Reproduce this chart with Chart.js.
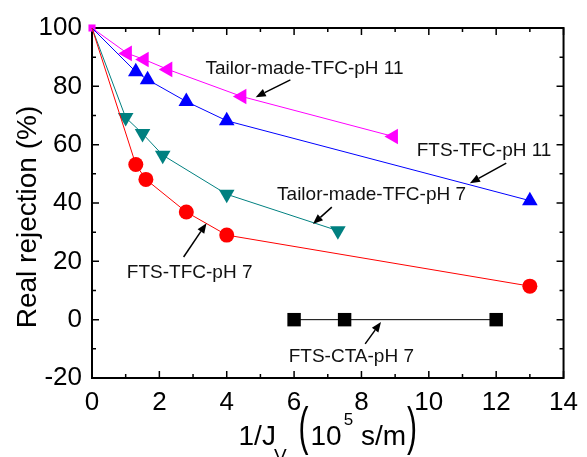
<!DOCTYPE html>
<html>
<head>
<meta charset="utf-8">
<script src="https://cdn.jsdelivr.net/npm/chart.js@4.4.0/dist/chart.umd.min.js"></script>
<style>
  html, body { margin: 0; padding: 0; background: #fff; }
</style>
</head>
<body>
<canvas id="chart" width="587" height="457"></canvas>
<script>
// Data (x = 1/Jv in 10^5 s/m, y = real rejection %)
const pinkX = [0, 1.05, 1.55, 2.25, 4.45, 8.95];
const pinkY = [100, 91.3, 89.2, 85.8, 76.5, 62.8];
const blueX = [0, 1.3, 1.65, 2.8, 4.0, 13.0];
const blueY = [100, 85, 82.3, 74.8, 68.2, 40.8];
const tealX = [0, 1.0, 1.5, 2.1, 4.0, 7.3];
const tealY = [100, 69.3, 63.8, 56.4, 43, 30.5];
const redX = [0, 1.3, 1.6, 2.8, 4.0, 13.0];
const redY = [100, 53.2, 48.1, 36.9, 29.0, 11.5];
const blackX = [6, 7.5, 12];
const blackY = [0, 0, 0];

// annotation labels and arrows (data coordinates)
const labelText = ['Tailor-made-TFC-pH 11', 'FTS-TFC-pH 11', 'Tailor-made-TFC-pH 7', 'FTS-TFC-pH 7', 'FTS-CTA-pH 7'];
const labelX = [6.31, 11.64, 8.30, 2.90, 7.70];
const labelY = [85.9, 57.8, 42.7, 16.0, -12.8];
const arrowFrom = [[5.89, 82.2], [12.30, 53.7], [7.12, 38.6], [2.72, 21.5], [8.11, -8.3]];
const arrowTo = [[4.86, 76.3], [11.22, 46.8], [6.56, 32.8], [3.40, 33.1], [8.58, -0.8]];

const FONT = "'Liberation Sans', Arial, sans-serif";

const toPoints = (xs, ys) => xs.map((x, i) => ({ x: x, y: ys[i] }));

// frame with inward ticks on all four sides
const frameTicks = {
  id: 'frameTicks',
  beforeDatasetsDraw(chart) {
    const { ctx, chartArea: a, scales } = chart;
    ctx.save();
    ctx.strokeStyle = '#000';
    ctx.lineWidth = 2;
    ctx.strokeRect(a.left, a.top, a.right - a.left, a.bottom - a.top);
    ctx.lineWidth = 1.5;
    ctx.beginPath();
    for (let v = 0; v <= 14; v += 1) {
      const px = scales.x.getPixelForValue(v);
      const len = v % 2 === 0 ? 7 : 4;
      ctx.moveTo(px, a.bottom); ctx.lineTo(px, a.bottom - len);
      ctx.moveTo(px, a.top); ctx.lineTo(px, a.top + len);
    }
    for (let v = -20; v <= 100; v += 10) {
      const py = scales.y.getPixelForValue(v);
      const len = v % 20 === 0 ? 7 : 4;
      ctx.moveTo(a.left, py); ctx.lineTo(a.left + len, py);
      ctx.moveTo(a.right, py); ctx.lineTo(a.right - len, py);
    }
    ctx.stroke();
    ctx.restore();
  }
};

// text labels with arrows
const annotations = {
  id: 'annotations',
  afterDatasetsDraw(chart) {
    const { ctx, scales } = chart;
    const sx = scales.x, sy = scales.y;
    ctx.save();
    ctx.fillStyle = '#111';
    ctx.font = '19px ' + FONT;
    ctx.textAlign = 'center';
    ctx.textBaseline = 'middle';
    labelText.forEach((t, i) => {
      ctx.fillText(t, sx.getPixelForValue(labelX[i]), sy.getPixelForValue(labelY[i]));
    });
    ctx.strokeStyle = '#000';
    ctx.fillStyle = '#000';
    ctx.lineWidth = 1.5;
    arrowFrom.forEach((f, i) => {
      const x0 = sx.getPixelForValue(f[0]), y0 = sy.getPixelForValue(f[1]);
      const x1 = sx.getPixelForValue(arrowTo[i][0]), y1 = sy.getPixelForValue(arrowTo[i][1]);
      const ang = Math.atan2(y1 - y0, x1 - x0);
      const hl = 10, hw = 4;
      const bx = x1 - hl * Math.cos(ang), by = y1 - hl * Math.sin(ang);
      ctx.beginPath();
      ctx.moveTo(x0, y0); ctx.lineTo(bx, by);
      ctx.stroke();
      ctx.beginPath();
      ctx.moveTo(x1, y1);
      ctx.lineTo(bx + hw * Math.sin(ang), by - hw * Math.cos(ang));
      ctx.lineTo(bx - hw * Math.sin(ang), by + hw * Math.cos(ang));
      ctx.closePath();
      ctx.fill();
    });
    ctx.restore();
  }
};

// axis titles (x title needs sub/superscript and tall parens)
const axisTitles = {
  id: 'axisTitles',
  afterDraw(chart) {
    const { ctx, chartArea: a } = chart;
    ctx.save();
    ctx.fillStyle = '#000';
    ctx.textBaseline = 'alphabetic';

    // y title
    ctx.save();
    ctx.translate(36, 217);
    ctx.rotate(-Math.PI / 2);
    ctx.textAlign = 'center';
    ctx.font = '28px ' + FONT;
    ctx.fillText('Real rejection (%)', 0, 0);
    ctx.restore();

    // x title pieces
    const parts = [
      { t: '1/J', f: 28, dy: 0, gap: -2, sy: 1 },
      { t: 'V', f: 19, dy: 17, gap: 12, sy: 1 },
      { t: '(', f: 30, dy: -1, gap: 2, sy: 1.7 },
      { t: '10', f: 28, dy: 0, gap: 2, sy: 1 },
      { t: '5', f: 17, dy: -20, gap: 0, sy: 1 },
      { t: ' s/m', f: 28, dy: 0, gap: 1, sy: 1 },
      { t: ')', f: 30, dy: -1, gap: 0, sy: 1.7 }
    ];
    let total = 0;
    parts.forEach(p => { ctx.font = p.f + 'px ' + FONT; p.w = ctx.measureText(p.t).width; total += p.w + p.gap; });
    let x = (a.left + a.right) / 2 - total / 2;
    const base = 445;
    ctx.textAlign = 'left';
    parts.forEach(p => {
      ctx.font = p.f + 'px ' + FONT;
      ctx.save();
      ctx.translate(x, base + p.dy);
      ctx.scale(1, p.sy);
      ctx.fillText(p.t, 0, 0);
      ctx.restore();
      x += p.w + p.gap;
    });
    ctx.restore();
  }
};

const lineDs = (label, xs, ys, color, style, rot, radius) => ({
  label: label,
  data: toPoints(xs, ys),
  showLine: true,
  borderColor: color,
  backgroundColor: color,
  borderWidth: 1,
  pointStyle: style,
  pointRotation: rot,
  pointRadius: radius,
  pointBorderWidth: 0,
  clip: false
});

new Chart(document.getElementById('chart'), {
  type: 'scatter',
  data: {
    datasets: [
      lineDs('FTS-CTA-pH 7', blackX, blackY, '#000', 'rect', 0, 9.5),
      lineDs('FTS-TFC-pH 7', redX, redY, '#ff0000', 'circle', 0, [0, 7.5, 7.5, 7.5, 7.5, 7.5]),
      lineDs('Tailor-made-TFC-pH 7', tealX, tealY, '#008080', 'triangle', 180, [0, 9, 9, 9, 9, 9]),
      lineDs('FTS-TFC-pH 11', blueX, blueY, '#0000ff', 'triangle', 0, [0, 9, 9, 9, 9, 9]),
      lineDs('Tailor-made-TFC-pH 11', pinkX, pinkY, '#ff00ff',
        ['rect', 'triangle', 'triangle', 'triangle', 'triangle', 'triangle'],
        [0, -90, -90, -90, -90, -90], [5, 9, 9, 9, 9, 9])
    ]
  },
  options: {
    responsive: false,
    animation: false,
    devicePixelRatio: 1,
    layout: { padding: { top: 28, right: 17, left: 0, bottom: 0 } },
    plugins: { legend: { display: false }, tooltip: { enabled: false } },
    scales: {
      x: {
        type: 'linear',
        min: 0, max: 14,
        grid: { display: false, drawTicks: false },
        border: { display: false },
        ticks: { stepSize: 2, color: '#000', padding: 9, font: { size: 26, family: FONT } },
        afterFit: (s) => { s.height = 79; }
      },
      y: {
        type: 'linear',
        min: -20, max: 100,
        grid: { display: false, drawTicks: false },
        border: { display: false },
        ticks: { stepSize: 20, color: '#000', padding: 10, font: { size: 26, family: FONT } },
        afterFit: (s) => { s.width = 92; }
      }
    }
  },
  plugins: [frameTicks, annotations, axisTitles]
});
</script>
</body>
</html>
